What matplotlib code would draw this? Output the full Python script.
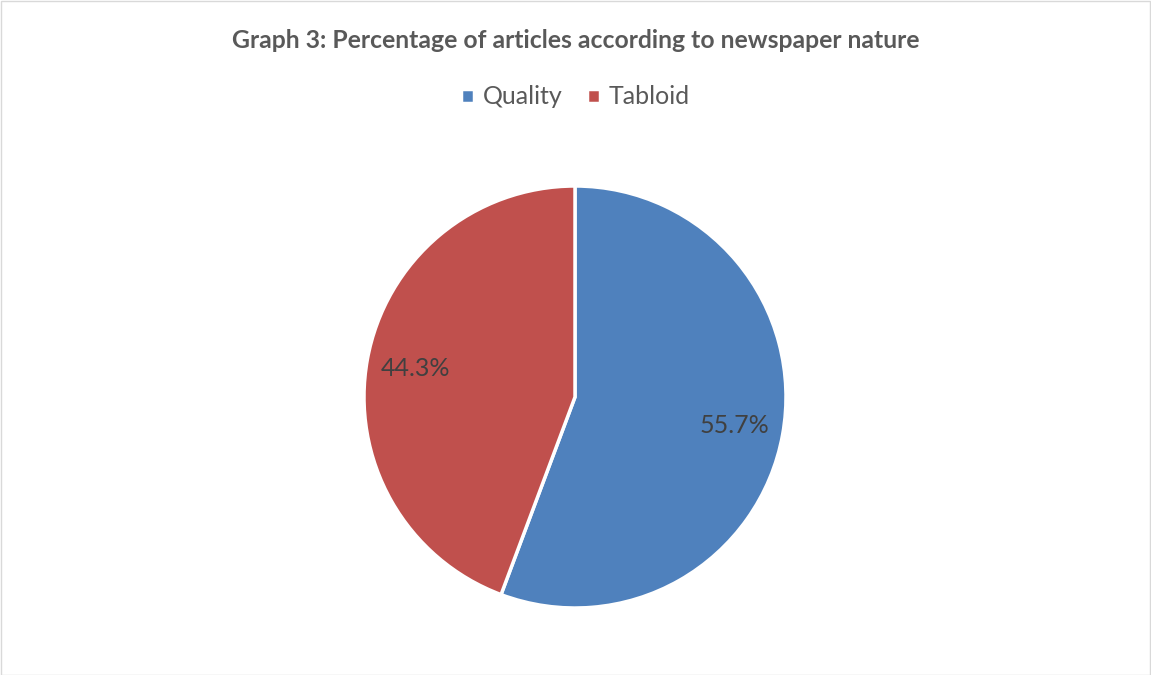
import matplotlib
matplotlib.use("Agg")
import matplotlib.pyplot as plt
from matplotlib.patches import Rectangle

labels = ["Quality", "Tabloid"]
values = [55.7, 44.3]
colors = ["#4F81BD", "#C0504D"]
title = "Graph 3: Percentage of articles according to newspaper nature"

plt.rcParams['font.family'] = ['Lato', 'DejaVu Sans']

W, H = 1151, 675
fig = plt.figure(figsize=(W / 100, H / 100), dpi=100)

# pie area: centre (575, 397), radius ~211 px
cx, cy, r = 575, 397, 211
ax = fig.add_axes([(cx - r) / W, (H - cy - r) / H, 2 * r / W, 2 * r / H])
wedges, texts, autotexts = ax.pie(
    values, colors=colors, startangle=90, counterclock=False,
    autopct=lambda p: f"{p:.1f}%", pctdistance=0.77,
    wedgeprops=dict(edgecolor="white", linewidth=2.5),
    textprops=dict(color="#404040", fontsize=18),
)
ax.set_xlim(-1.0, 1.0)
ax.set_ylim(-1.0, 1.0)
ax.set_aspect("equal")
ax.axis("off")

fig.text(0.5, 1 - 40 / H, title, ha="center", va="center",
         fontsize=17.8, fontweight="bold", color="#595959")

fig.legend(wedges, labels, loc="center", bbox_to_anchor=(0.5, 1 - 97 / H),
           ncol=2, frameon=False, fontsize=18, labelcolor="#595959",
           handlelength=0.5, handleheight=0.5, handletextpad=0.35,
           columnspacing=1.0)

fig.patches.append(Rectangle((0.5 / W, 0.5 / H), 1 - 1.5 / W, 1 - 1.5 / H,
                             transform=fig.transFigure, fill=False,
                             edgecolor="#D9D9D9", linewidth=1))

fig.savefig("out.png", dpi=100)
